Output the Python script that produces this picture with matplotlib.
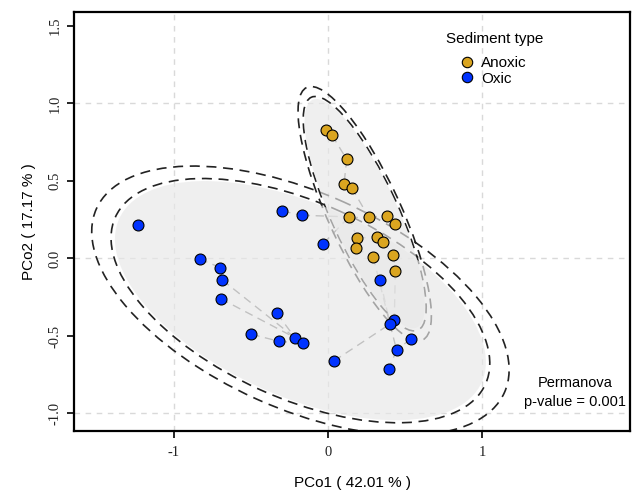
import numpy as np
import matplotlib
matplotlib.use('Agg')
import matplotlib.pyplot as plt
from matplotlib.patches import Ellipse
from matplotlib.lines import Line2D

# PCoA scores
anoxic_x = [-0.015, 0.026, 0.121, 0.104, 0.153, 0.136, 0.263, 0.382,
            0.436, 0.190, 0.181, 0.315, 0.358, 0.293, 0.423, 0.436]
anoxic_y = [0.829, 0.795, 0.640, 0.481, 0.457, 0.268, 0.268, 0.274,
            0.221, 0.130, 0.066, 0.141, 0.104, 0.008, 0.025, -0.083]
oxic_x = [-1.232, -0.296, -0.170, -0.030, -0.831, -0.697, -0.684, -0.695,
          -0.330, -0.496, -0.319, -0.214, -0.160, 0.039, 0.339, 0.429,
          0.401, 0.537, 0.444, 0.395]
oxic_y = [0.216, 0.306, 0.279, 0.096, -0.003, -0.059, -0.139, -0.259,
          -0.354, -0.489, -0.534, -0.511, -0.547, -0.661, -0.141, -0.399,
          -0.423, -0.519, -0.590, -0.711]

groups = ['Anoxic', 'Oxic']
colors = {'Anoxic': '#DAA520', 'Oxic': '#0033FF'}

# links between samples (index into anoxic + oxic)
links = [(0, 1), (1, 2), (2, 3), (3, 4), (4, 6), (5, 6), (6, 7), (7, 8),
         (5, 9), (9, 10), (9, 11), (11, 12), (12, 14), (10, 13), (14, 15),
         (18, 5), (19, 5), (13, 32), (15, 31),
         (20, 21), (21, 22), (22, 27), (23, 27), (24, 27), (25, 26), (26, 28),
         (27, 28), (29, 32), (30, 32), (31, 32), (32, 34), (33, 34), (34, 35),
         (17, 18)]

xlabel = 'PCo1 ( 42.01 % )'
ylabel = 'PCo2 ( 17.17 % )'

pts = {'Anoxic': np.column_stack([anoxic_x, anoxic_y]),
       'Oxic': np.column_stack([oxic_x, oxic_y])}
allpts = np.vstack([pts['Anoxic'], pts['Oxic']])

# ellipse radii (in sd units): filled, inner dashed, outer dashed
radii = {'Anoxic': (2.66, 2.72, 2.95), 'Oxic': (2.40, 2.45, 2.70)}

fig = plt.figure(figsize=(6.38, 4.92), dpi=100)
ax = fig.add_axes([0.116, 0.124, 0.8715, 0.8516])

dash = (0, (6, 4))


def ellipse(xy, k, **kw):
    c = xy.mean(axis=0)
    cov = np.cov(xy, rowvar=False)
    vals, vecs = np.linalg.eigh(cov)
    ang = np.degrees(np.arctan2(vecs[1, 1], vecs[0, 1]))
    return Ellipse(c, 2 * k * np.sqrt(vals[1]), 2 * k * np.sqrt(vals[0]),
                   angle=ang, **kw)


# grid
for v in [-1, 0, 1]:
    ax.axvline(v, color='#d9d9d9', lw=1, ls=(0, (4, 4)), zorder=0)
    ax.axhline(v, color='#d9d9d9', lw=1, ls=(0, (4, 4)), zorder=0)

# links
for a, b in links:
    ax.plot(allpts[[a, b], 0], allpts[[a, b], 1], color='#777777', lw=1,
            ls=dash, zorder=1)

# dashed ellipses, then translucent filled ones on top
for g in groups:
    for k in radii[g][1:]:
        ax.add_patch(ellipse(pts[g], k, fill=False, edgecolor='#222222',
                             lw=1.2, ls=dash, zorder=1))
for g in groups:
    ax.add_patch(ellipse(pts[g], radii[g][0], facecolor='#e8e8e8',
                         edgecolor='none', alpha=0.66, zorder=2))

for g in groups:
    ax.scatter(pts[g][:, 0], pts[g][:, 1], s=62, color=colors[g],
               edgecolor='black', linewidth=0.8, zorder=3)

ax.set_xlim(-1.644, 1.955)
ax.set_ylim(-1.113, 1.59)
ax.set_xticks([-1, 0, 1])
ax.set_xticklabels(['-1', '0', '1'])
ax.set_yticks([-1.0, -0.5, 0.0, 0.5, 1.0, 1.5])
ax.set_yticklabels(['-1.0', '-0.5', '0.0', '0.5', '1.0', '1.5'],
                   rotation=90, va='center')
for lab in ax.get_xticklabels() + ax.get_yticklabels():
    lab.set_fontfamily('Liberation Serif')
    lab.set_fontsize(10.5)
    lab.set_color('#222222')
ax.tick_params(direction='out', length=5, width=1.2)
ax.tick_params(axis='x', pad=6)
ax.tick_params(axis='y', pad=4)
for s in ax.spines.values():
    s.set_linewidth(1.6)

ax.set_xlabel(xlabel, fontsize=11, family='Liberation Sans', labelpad=12)
ax.set_ylabel(ylabel, fontsize=11, family='Liberation Sans', labelpad=9)

ax.text(0.669, 0.935, 'Sediment type', transform=ax.transAxes,
        fontsize=11, family='Liberation Sans', va='center')
handles = [Line2D([], [], ls='none', marker='o', markersize=7.5,
                  markerfacecolor=colors[g], markeredgecolor='black',
                  markeredgewidth=0.8) for g in groups]
ax.legend(handles, groups, loc='upper left', bbox_to_anchor=(0.677, 0.92),
          frameon=False, handlelength=0.8, handletextpad=0.5,
          labelspacing=0.1, borderpad=0.2,
          prop={'family': 'Liberation Sans', 'size': 11})

ax.text(0.901, 0.093, 'Permanova\np-value = 0.001', transform=ax.transAxes,
        ha='center', va='center', fontsize=10.5, family='Liberation Sans',
        linespacing=1.45, zorder=4)

fig.savefig('out.png', dpi=100)
